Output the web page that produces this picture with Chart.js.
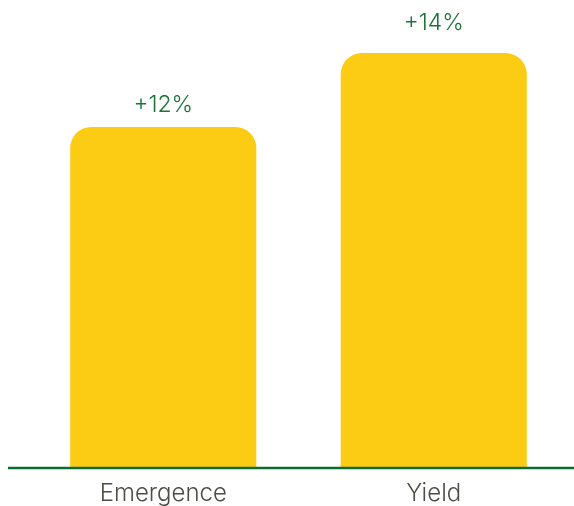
<!DOCTYPE html>
<html>
<head>
<meta charset="utf-8">
<script src="https://cdn.jsdelivr.net/npm/chart.js@4/dist/chart.umd.min.js"></script>
<style>
html,body{margin:0;padding:0;background:#fff;}
#wrap{width:574px;height:506px;position:relative;}
</style>
</head>
<body>
<div id="wrap"><canvas id="c" width="574" height="506"></canvas></div>
<script>
const categories = ["Emergence", "Yield"];
const barValues = [82.2, 100];          // relative bar heights
const valueLabels = ["+12%", "+14%"];

const FONT = "Inter, 'Open Sans', sans-serif";

const topLabels = {
  id: 'topLabels',
  afterDatasetsDraw(chart, args, opts) {
    const ctx = chart.ctx;
    const meta = chart.getDatasetMeta(0);
    ctx.save();
    ctx.fillStyle = '#1b7337';
    ctx.font = "300 23px " + FONT;
    ctx.textAlign = 'center';
    ctx.textBaseline = 'alphabetic';
    meta.data.forEach((bar, i) => {
      ctx.fillText(valueLabels[i], bar.x, bar.y - opts.gaps[i]);
    });
    ctx.restore();
  }
};

const baseLine = {
  id: 'baseLine',
  afterDatasetsDraw(chart) {
    const ctx = chart.ctx;
    const y = chart.scales.y.getPixelForValue(0);
    ctx.save();
    ctx.strokeStyle = '#0d6b30';
    ctx.lineWidth = 2.5;
    ctx.beginPath();
    ctx.moveTo(8, y);
    ctx.lineTo(chart.width, y);
    ctx.stroke();
    ctx.restore();
  }
};

new Chart(document.getElementById('c'), {
  type: 'bar',
  data: {
    labels: categories,
    datasets: [{
      data: barValues,
      backgroundColor: '#fccc15',
      borderRadius: {topLeft: 21, topRight: 21, bottomLeft: 0, bottomRight: 0},
      borderSkipped: 'start',
      barPercentage: 0.688,
      categoryPercentage: 1
    }]
  },
  options: {
    responsive: false,
    animation: false,
    layout: {padding: {left: 28, right: 5, top: 0, bottom: 0}},
    plugins: {
      legend: {display: false},
      tooltip: {enabled: false},
      topLabels: {gaps: [15, 23]}
    },
    scales: {
      x: {
        grid: {display: false, drawTicks: false},
        border: {display: false},
        ticks: {color: '#4d4d46', font: {family: FONT, size: 24, weight: 300}, padding: 11},
        afterFit: (scale) => { scale.height = 38; }
      },
      y: {
        display: false,
        min: 0,
        max: 112.8
      }
    }
  },
  plugins: [topLabels, baseLine]
});
</script>
</body>
</html>
